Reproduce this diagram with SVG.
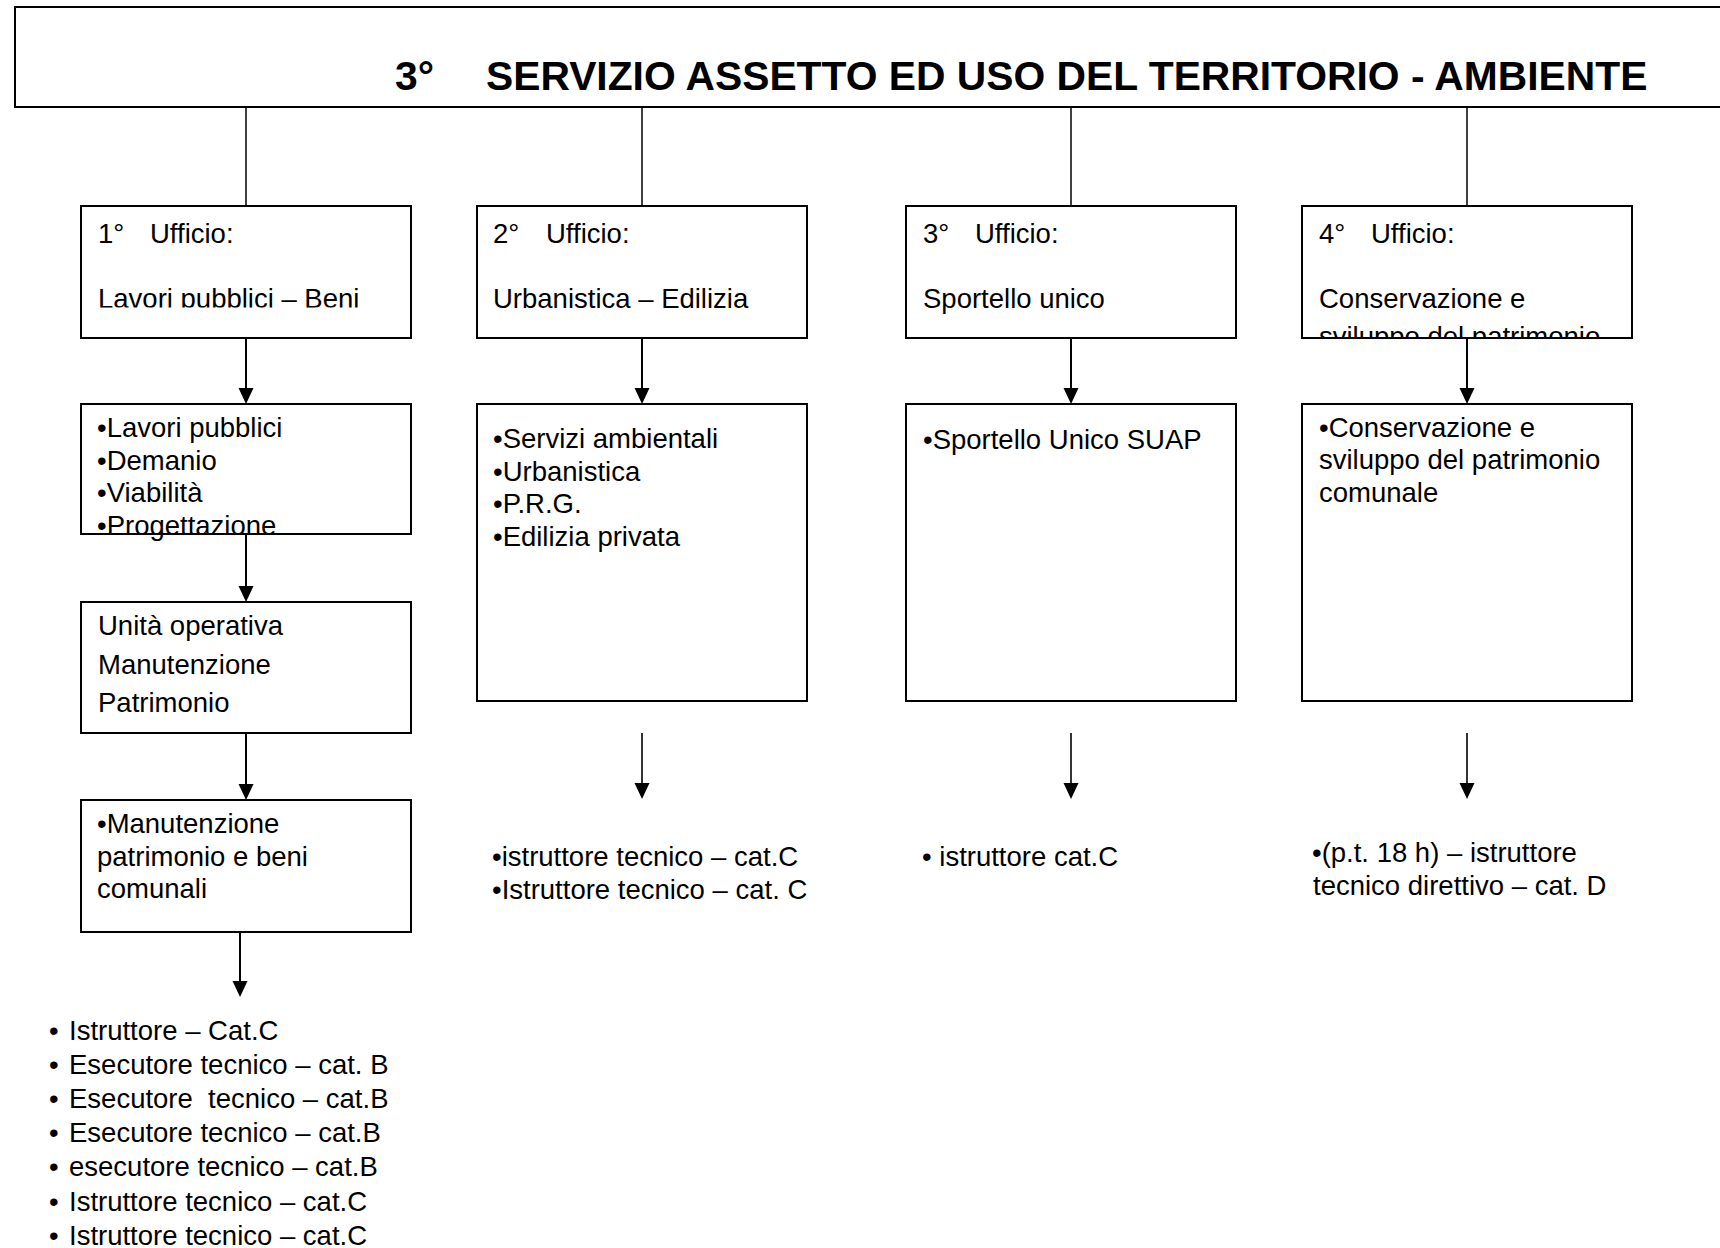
<svg xmlns="http://www.w3.org/2000/svg" width="1720" height="1248" viewBox="0 0 1720 1248">
<style>
text{font-family:"Liberation Sans",Arial,sans-serif;font-size:27.5px;fill:#000}
.title{font-weight:bold;font-size:40.8px}
.box{fill:#fff;stroke:#000;stroke-width:2}
.conn{stroke:#000;stroke-width:1.5;fill:none}
.arr{stroke:#000;stroke-width:2;fill:none;marker-end:url(#ah)}
.arr2{stroke:#000;stroke-width:1.6;fill:none;marker-end:url(#ah)}
</style>
<defs>
<marker id="ah" markerUnits="userSpaceOnUse" markerWidth="16" markerHeight="16" viewBox="0 0 16 16" refX="12" refY="7.5" orient="auto">
<path d="M0,0 L16,7.5 L0,15 Z" fill="#000"/>
</marker>
<clipPath id="clip1"><rect x="80" y="205" width="332" height="102.5"/></clipPath>
<clipPath id="clip4"><rect x="1301" y="205" width="332" height="133"/></clipPath>
</defs>
<rect x="0" y="0" width="1720" height="1248" fill="#fff"/>

<g id="title">
<rect class="box" x="15" y="7" width="1720" height="100"/>
<text class="title" x="395" y="90">3°<tspan x="486">SERVIZIO ASSETTO ED USO DEL TERRITORIO - AMBIENTE</tspan></text>
</g>

<g id="connectors">
<line class="conn" x1="246" y1="107" x2="246" y2="206"/>
<line class="conn" x1="642" y1="107" x2="642" y2="206"/>
<line class="conn" x1="1071" y1="107" x2="1071" y2="206"/>
<line class="conn" x1="1467" y1="107" x2="1467" y2="206"/>
<line class="arr" x1="246" y1="338" x2="246" y2="400"/>
<line class="arr" x1="642" y1="338" x2="642" y2="400"/>
<line class="arr" x1="1071" y1="338" x2="1071" y2="400"/>
<line class="arr" x1="1467" y1="338" x2="1467" y2="400"/>
<line class="arr" x1="246" y1="534" x2="246" y2="598"/>
<line class="arr" x1="246" y1="733" x2="246" y2="796"/>
<line class="arr" x1="240" y1="932" x2="240" y2="993"/>
<line class="arr2" x1="642" y1="733" x2="642" y2="795"/>
<line class="arr2" x1="1071" y1="733" x2="1071" y2="795"/>
<line class="arr2" x1="1467" y1="733" x2="1467" y2="795"/>
</g>

<g id="ufficio1">
<rect class="box" x="81" y="206" width="330" height="132"/>
<text x="98" y="243">1°<tspan x="150">Ufficio:</tspan></text>
<text x="98" y="308" clip-path="url(#clip1)">Lavori pubblici – Beni</text>
</g>
<g id="ufficio2">
<rect class="box" x="477" y="206" width="330" height="132"/>
<text x="493" y="243">2°<tspan x="546">Ufficio:</tspan></text>
<text x="493" y="308">Urbanistica – Edilizia</text>
</g>
<g id="ufficio3">
<rect class="box" x="906" y="206" width="330" height="132"/>
<text x="923" y="243">3°<tspan x="975">Ufficio:</tspan></text>
<text x="923" y="308">Sportello unico</text>
</g>
<g id="ufficio4">
<rect class="box" x="1302" y="206" width="330" height="132"/>
<text x="1319" y="243">4°<tspan x="1371">Ufficio:</tspan></text>
<text x="1319" y="308">Conservazione e</text>
<text x="1319" y="346" clip-path="url(#clip4)">sviluppo del patrimonio</text>
</g>

<g id="compiti1">
<rect class="box" x="81" y="404" width="330" height="130"/>
<text x="97" y="437">•Lavori pubblici</text>
<text x="97" y="469.5">•Demanio</text>
<text x="97" y="502">•Viabilità</text>
<text x="97" y="534.5">•Progettazione</text>
</g>
<g id="compiti2">
<rect class="box" x="477" y="404" width="330" height="297"/>
<text x="493" y="448">•Servizi ambientali</text>
<text x="493" y="480.5">•Urbanistica</text>
<text x="493" y="513">•P.R.G.</text>
<text x="493" y="545.5">•Edilizia privata</text>
</g>
<g id="compiti3">
<rect class="box" x="906" y="404" width="330" height="297"/>
<text x="923" y="449">•Sportello Unico SUAP</text>
</g>
<g id="compiti4">
<rect class="box" x="1302" y="404" width="330" height="297"/>
<text x="1319" y="437">•Conservazione e</text>
<text x="1319" y="469">sviluppo del patrimonio</text>
<text x="1319" y="502">comunale</text>
</g>

<g id="unita-operativa">
<rect class="box" x="81" y="602" width="330" height="131"/>
<text x="98" y="635">Unità operativa</text>
<text x="98" y="674">Manutenzione</text>
<text x="98" y="712">Patrimonio</text>
</g>
<g id="manutenzione">
<rect class="box" x="81" y="800" width="330" height="132"/>
<text x="97" y="833">•Manutenzione</text>
<text x="97" y="866">patrimonio e beni</text>
<text x="97" y="898">comunali</text>
</g>

<g id="personale1">
<text x="49" y="1040">•<tspan x="69">Istruttore – Cat.C</tspan></text>
<text x="49" y="1074">•<tspan x="69">Esecutore tecnico – cat. B</tspan></text>
<text x="49" y="1108">•<tspan x="69">Esecutore &#160;tecnico – cat.B</tspan></text>
<text x="49" y="1142">•<tspan x="69">Esecutore tecnico – cat.B</tspan></text>
<text x="49" y="1176">•<tspan x="69">esecutore tecnico – cat.B</tspan></text>
<text x="49" y="1211">•<tspan x="69">Istruttore tecnico – cat.C</tspan></text>
<text x="49" y="1245">•<tspan x="69">Istruttore tecnico – cat.C</tspan></text>
</g>
<g id="personale2">
<text x="492" y="866">•istruttore tecnico – cat.C</text>
<text x="492" y="899">•Istruttore tecnico – cat. C</text>
</g>
<g id="personale3">
<text x="922" y="866">• istruttore cat.C</text>
</g>
<g id="personale4">
<text x="1312" y="862">•(p.t. 18 h) – istruttore</text>
<text x="1313" y="895">tecnico direttivo – cat. D</text>
</g>
</svg>
